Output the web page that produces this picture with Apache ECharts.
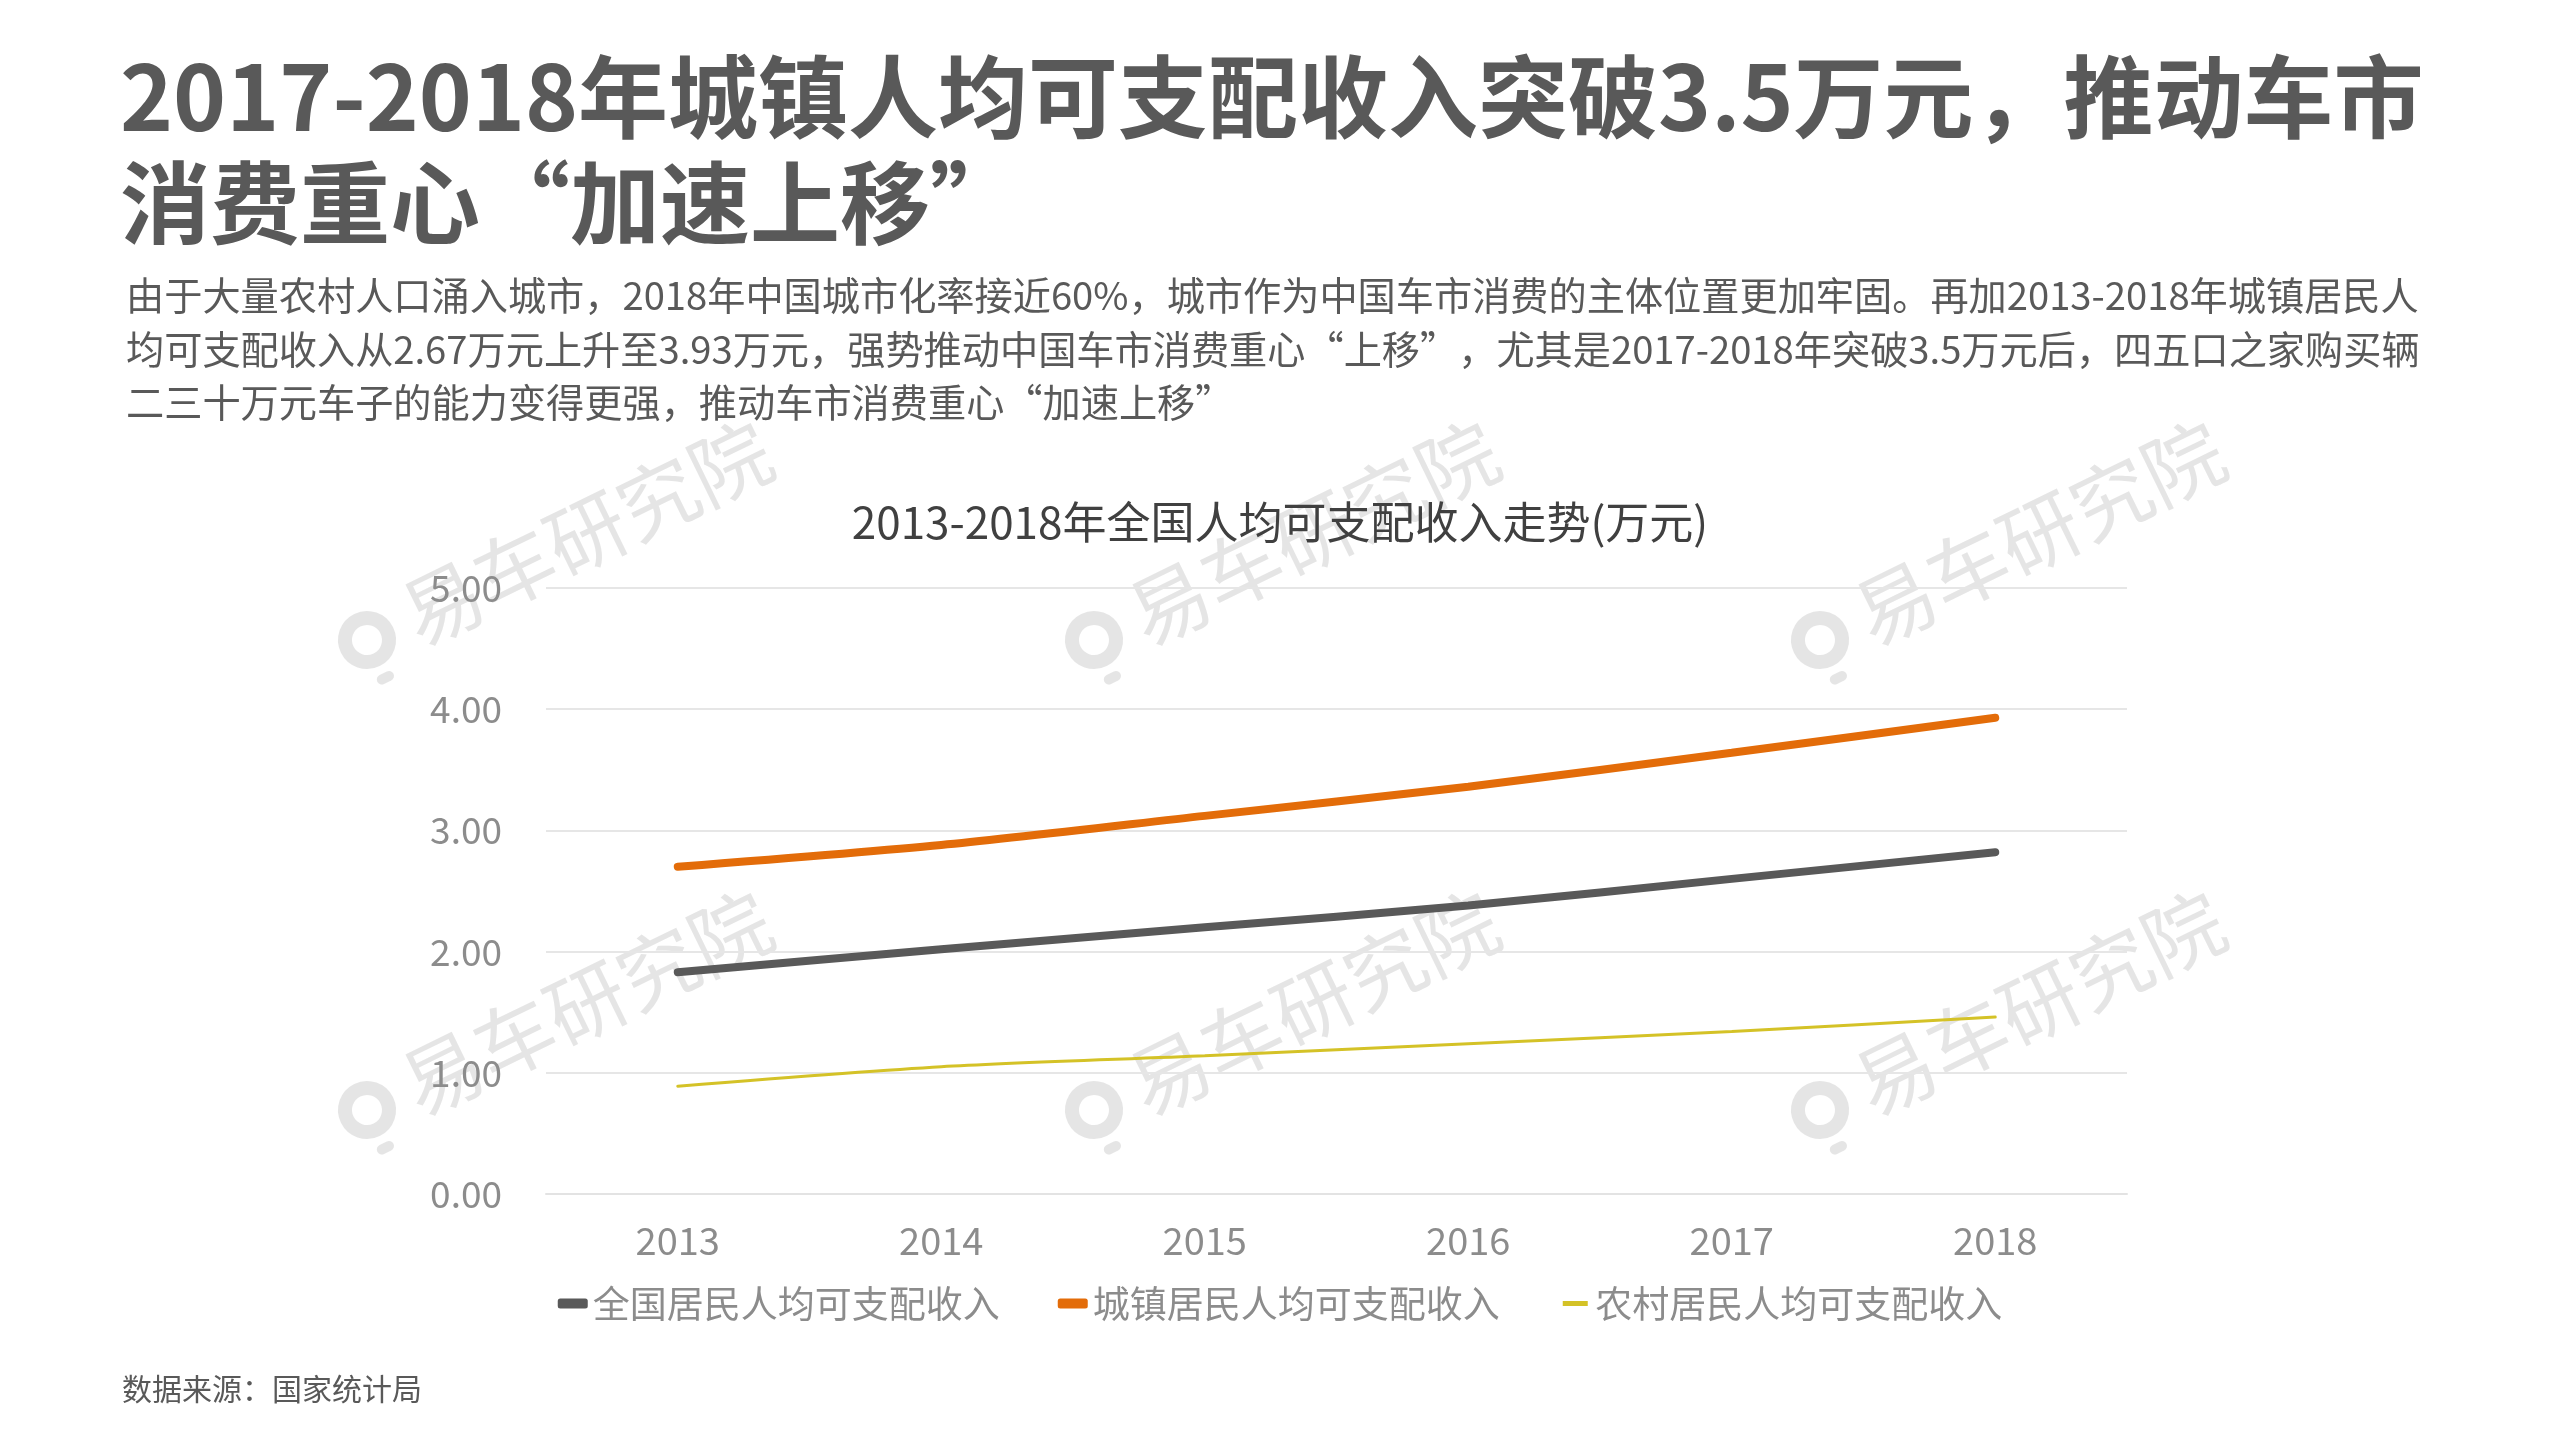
<!DOCTYPE html>
<html><head><meta charset="utf-8">
<script src="https://cdn.jsdelivr.net/npm/echarts@6/dist/echarts.min.js"></script>
<style>html,body{margin:0;padding:0;background:#fff}#c{width:2560px;height:1440px}</style>
</head><body><div id="c"></div>
<script>
// ---- data ----
const years = ['2013', '2014', '2015', '2016', '2017', '2018'];
const nationalIncome = [1.83, 2.02, 2.20, 2.38, 2.60, 2.82];
const urbanIncome = [2.70, 2.88, 3.12, 3.36, 3.64, 3.93];
const ruralIncome = [0.89, 1.05, 1.14, 1.24, 1.34, 1.46];
const seriesNames = ['全国居民人均可支配收入', '城镇居民人均可支配收入', '农村居民人均可支配收入'];
const mainTitle = '2017-2018年城镇人均可支配收入突破3.5万元，推动车市\n消费重心“加速上移”';
const subText = '由于大量农村人口涌入城市，2018年中国城市化率接近60%，城市作为中国车市消费的主体位置更加牢固。再加2013-2018年城镇居民人\n均可支配收入从2.67万元上升至3.93万元，强势推动中国车市消费重心“上移”，尤其是2017-2018年突破3.5万元后，四五口之家购买辆\n二三十万元车子的能力变得更强，推动车市消费重心“加速上移”';
const chartTitle = '2013-2018年全国人均可支配收入走势(万元)';
const sourceText = '数据来源：国家统计局';
const watermarkText = '易车研究院';

const FONT = '"Noto Sans CJK SC", "Noto Sans", sans-serif';
const chart = echarts.init(document.getElementById('c'), null, {renderer: 'canvas'});

const wmPos = [[367, 640], [1094, 640], [1820, 640], [367, 1110], [1094, 1110], [1820, 1110]];
const wmColor = 'rgba(212,212,212,0.6)';
const watermarks = wmPos.map(p => ({
  type: 'group', x: p[0], y: p[1], rotation: 26 * Math.PI / 180, z: 100, silent: true,
  children: [
    {type: 'circle', shape: {cx: 0, cy: 0, r: 22}, style: {fill: 'none', stroke: wmColor, lineWidth: 14}},
    {type: 'rect', shape: {x: -9, y: 37, width: 18, height: 10, r: 5}, style: {fill: wmColor}},
    {type: 'text', x: 44, y: 0, style: {text: watermarkText, font: '80px ' + FONT, fill: wmColor, textVerticalAlign: 'middle'}}
  ]
}));

const colors = ['#595959', '#E36C09', '#D4C227'];

chart.setOption({
  backgroundColor: '#ffffff',
  animation: false,
  title: {
    text: chartTitle, left: 'center', top: 495,
    textStyle: {fontFamily: FONT, fontSize: 44, fontWeight: 'normal', color: '#404040'}
  },
  graphic: [
    {type: 'text', left: 120, top: 44, style: {text: mainTitle, font: 'bold 90px ' + FONT, fill: '#595959', lineHeight: 106}},
    {type: 'text', left: 126, top: 269, style: {text: subText, font: '38.2px ' + FONT, fill: '#595959', lineHeight: 53.5}},
    {type: 'text', left: 122, top: 1374, style: {text: sourceText, font: '30px ' + FONT, fill: '#595959'}}
  ].concat(watermarks),
  legend: {
    data: [
      {name: seriesNames[0], icon: 'roundRect', itemStyle: {color: colors[0]}},
      {name: seriesNames[1], icon: 'roundRect', itemStyle: {color: colors[1]}},
      {name: seriesNames[2], icon: 'rect', itemStyle: {color: colors[2], borderColor: '#ffffff', borderWidth: 5}}
    ],
    left: 'center', top: 1280, itemGap: 58, itemWidth: 30, itemHeight: 10,
    textStyle: {fontFamily: FONT, fontSize: 37, color: '#8c8c8c'}
  },
  grid: {left: 546, right: 433, top: 588, bottom: 246, containLabel: false},
  xAxis: {
    type: 'category', data: years, boundaryGap: true,
    axisLine: {show: true, lineStyle: {color: '#e3e3e3', width: 2}},
    axisTick: {show: false},
    axisLabel: {fontFamily: FONT, fontSize: 38, color: '#8c8c8c', margin: 28}
  },
  yAxis: {
    type: 'value', min: 0, max: 5, interval: 1,
    axisLine: {show: false}, axisTick: {show: false},
    splitLine: {lineStyle: {color: '#e6e6e6', width: 2}},
    axisLabel: {fontFamily: FONT, fontSize: 37, color: '#8c8c8c', margin: 44, formatter: v => v.toFixed(2)}
  },
  series: [
    {name: seriesNames[0], type: 'line', data: nationalIncome, smooth: 0.25, showSymbol: false, symbol: 'none',
     lineStyle: {color: colors[0], width: 8, cap: 'round'}, itemStyle: {color: colors[0]}},
    {name: seriesNames[1], type: 'line', data: urbanIncome, smooth: 0.25, showSymbol: false, symbol: 'none',
     lineStyle: {color: colors[1], width: 8, cap: 'round'}, itemStyle: {color: colors[1]}},
    {name: seriesNames[2], type: 'line', data: ruralIncome, smooth: 0.25, showSymbol: false, symbol: 'none',
     lineStyle: {color: colors[2], width: 3, cap: 'round'}, itemStyle: {color: colors[2]}}
  ]
});
</script></body></html>
